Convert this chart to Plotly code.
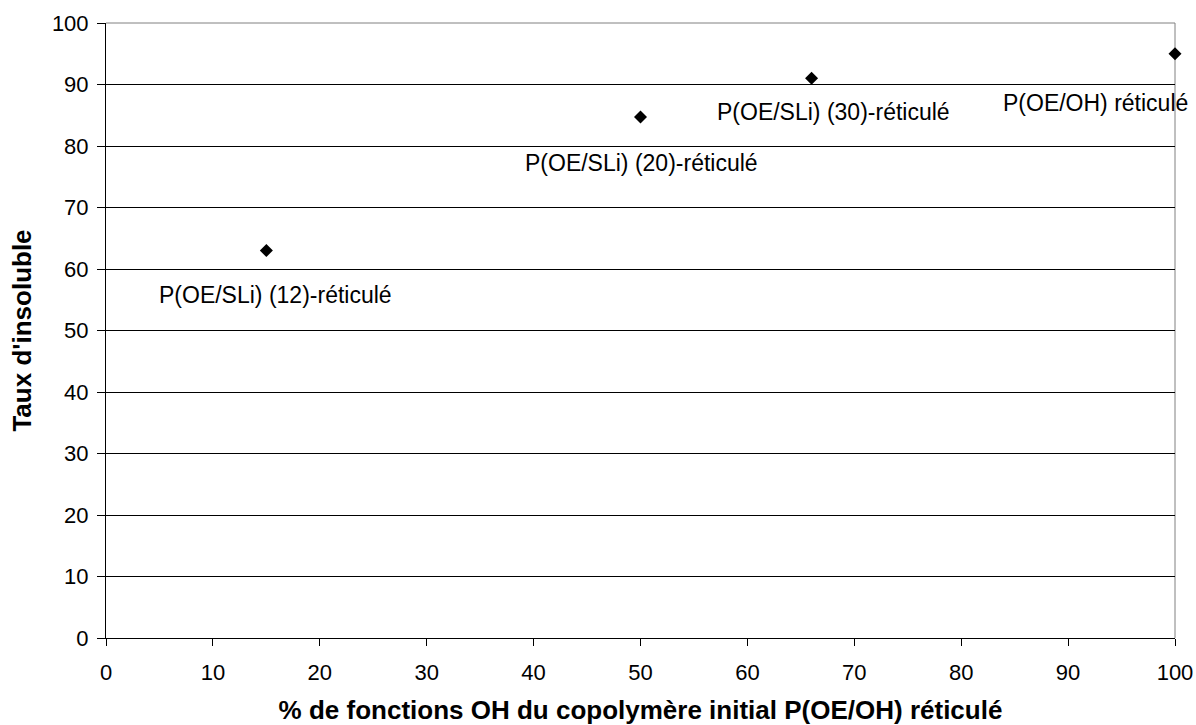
import plotly.graph_objects as go

# Insoluble fraction vs. initial OH-function content of the crosslinked copolymer
oh_percent = [15, 50, 66, 100]
insoluble_rate = [63, 84.7, 91, 95]
point_labels = [
    "P(OE/SLi) (12)-réticulé",
    "P(OE/SLi) (20)-réticulé",
    "P(OE/SLi) (30)-réticulé",
    "P(OE/OH) réticulé",
]
# pixel offsets of each data label relative to its point
label_dx = [9, 1, 22, -80]
label_dy = [-44, -46, -34, -49]

x_ticks = list(range(0, 101, 10))
y_ticks = list(range(0, 101, 10))

FONT = "Liberation Sans, Arial, sans-serif"

fig = go.Figure()
fig.add_trace(go.Scatter(
    x=oh_percent,
    y=insoluble_rate,
    mode="markers",
    marker=dict(symbol="diamond", size=10, color="black", line=dict(width=0)),
    showlegend=False,
    cliponaxis=False,
))

for xv, yv, txt, dx, dy in zip(oh_percent, insoluble_rate, point_labels, label_dx, label_dy):
    fig.add_annotation(
        x=xv, y=yv, text=txt, showarrow=False,
        xshift=dx, yshift=dy,
        xanchor="center", yanchor="middle",
        font=dict(family=FONT, size=23, color="black"),
    )

# plot-area frame: grey top and right edges
fig.add_shape(type="line", xref="paper", yref="paper", x0=0, x1=1, y0=1, y1=1,
              line=dict(color="#808080", width=1), layer="above")
fig.add_shape(type="line", xref="paper", yref="paper", x0=1, x1=1, y0=0, y1=1,
              line=dict(color="#808080", width=1), layer="below")

fig.update_layout(
    width=1196, height=725,
    margin=dict(l=106, r=21, t=23, b=87),
    paper_bgcolor="white", plot_bgcolor="white",
    font=dict(family=FONT, color="black"),
    xaxis=dict(
        range=[0, 100], tickvals=x_ticks, ticktext=[str(v) for v in x_ticks],
        showgrid=False, zeroline=False,
        showline=True, linecolor="black", linewidth=1,
        ticks="outside", ticklen=7, tickcolor="black", tickwidth=1,
        ticklabelstandoff=8,
        tickfont=dict(family=FONT, size=22, color="black"),
        title=dict(text="<b>% de fonctions OH du copolymère initial P(OE/OH) réticulé</b>",
                   font=dict(family=FONT, size=26, color="black"), standoff=16),
        automargin=False,
    ),
    yaxis=dict(
        range=[0, 100], tickvals=y_ticks, ticktext=[str(v) for v in y_ticks],
        showgrid=True, gridcolor="black", gridwidth=1,
        zeroline=False,
        showline=True, linecolor="black", linewidth=1,
        ticks="outside", ticklen=8, tickcolor="black", tickwidth=1,
        ticklabelstandoff=4,
        tickfont=dict(family=FONT, size=22, color="black"),
        title=dict(text="<b>Taux d'insoluble</b>",
                   font=dict(family=FONT, size=26, color="black"), standoff=12),
        automargin=False,
    ),
)

fig.write_html("out.html")
